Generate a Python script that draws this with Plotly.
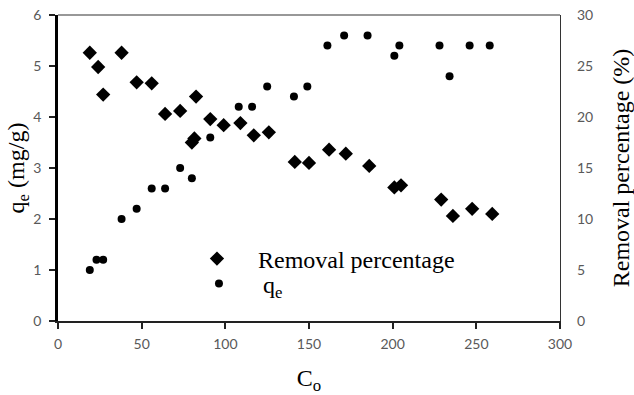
import plotly.graph_objects as go

# q_e (mg/g) vs C_o  (left axis)
qe_c = [19, 23, 27, 38, 47, 56, 64, 73, 80, 91, 108, 116, 125, 141, 149,
        161, 171, 185, 201, 204, 228, 234, 246, 258]
qe_v = [1.0, 1.2, 1.2, 2.0, 2.2, 2.6, 2.6, 3.0, 2.8, 3.6, 4.2, 4.2, 4.6, 4.4, 4.6,
        5.4, 5.6, 5.6, 5.2, 5.4, 5.4, 4.8, 5.4, 5.4]

# Removal percentage (%) vs C_o  (right axis)
rp_c = [19, 24, 27, 38, 47, 56, 64, 73, 82.5, 80, 81.5, 91, 99, 109, 117, 126,
        141.5, 150, 162, 172, 186, 201, 205, 229, 236, 247.5, 259.5]
rp_v = [26.3, 24.9, 22.2, 26.3, 23.4, 23.3, 20.3, 20.6, 22.0, 17.5, 17.9, 19.8,
        19.2, 19.4, 18.2, 18.5, 15.6, 15.5, 16.8, 16.4, 15.2, 13.1, 13.3, 11.9,
        10.3, 11.0, 10.5]

x_ticks = [0, 50, 100, 150, 200, 250, 300]
yl_ticks = [0, 1, 2, 3, 4, 5, 6]
yr_ticks = [0, 5, 10, 15, 20, 25, 30]

serif = "Liberation Serif, Times New Roman, serif"
sans = "Lato, Carlito, Calibri, sans-serif"
tick_font = dict(family=sans, size=14, color="#595959")
title_font = dict(family=serif, size=24, color="black")

fig = go.Figure()
fig.add_trace(go.Scatter(
    x=rp_c, y=rp_v, mode="markers", name="Removal percentage", yaxis="y2",
    legend="legend",
    marker=dict(symbol="diamond", size=11, color="black")))
fig.add_trace(go.Scatter(
    x=qe_c, y=qe_v, mode="markers", name="q<sub>e</sub>", yaxis="y",
    legend="legend2",
    marker=dict(symbol="circle", size=8, color="black")))

leg_common = dict(xanchor="left", yanchor="middle", bgcolor="rgba(0,0,0,0)",
                  font=dict(family=serif, size=24, color="black"), borderwidth=0)

fig.update_layout(
    width=634, height=395,
    margin=dict(l=58, r=74, t=15, b=74),
    paper_bgcolor="white", plot_bgcolor="white",
    showlegend=True,
    legend=dict(x=0.235, y=0.2026, itemwidth=72, **leg_common),
    legend2=dict(x=0.233, y=0.1209, itemwidth=78, **leg_common),
    xaxis=dict(range=[0, 300], tickvals=x_ticks, showgrid=False, zeroline=False,
               showline=True, linecolor="#222", linewidth=2,
               ticks="outside", ticklen=6, tickcolor="#222", tickwidth=1.5,
               tickfont=tick_font, automargin=False, ticklabelstandoff=3,
               title=dict(text="C<sub>o</sub>", font=title_font, standoff=25)),
    yaxis=dict(range=[0, 6], tickvals=yl_ticks, showgrid=False, zeroline=False,
               showline=True, linecolor="black", linewidth=2.5,
               ticks="outside", ticklen=6, tickcolor="#222", tickwidth=1.5,
               tickfont=tick_font, automargin=False, ticklabelstandoff=5,
               title=dict(text="q<sub>e</sub> (mg/g)", font=title_font, standoff=0)),
    yaxis2=dict(range=[0, 30], tickvals=yr_ticks, overlaying="y", side="right",
                showgrid=False, zeroline=False, showline=True, linecolor="#333",
                linewidth=1.2, ticks="", tickfont=tick_font, automargin=False,
                ticklabelstandoff=13,
                title=dict(text="Removal percentage (%)", font=title_font, standoff=20)),
    shapes=[dict(type="line", xref="paper", yref="paper", x0=0, x1=1, y0=1, y1=1,
                 line=dict(color="#333", width=1.2))],
)

fig.write_html("out.html")
